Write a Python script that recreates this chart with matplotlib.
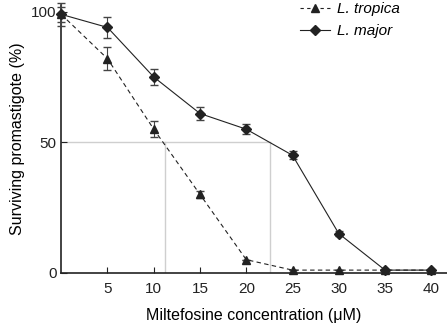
import matplotlib
matplotlib.use('Agg')
import matplotlib.pyplot as plt
from matplotlib.lines import Line2D

plt.rcParams['font.family'] = ['Liberation Sans', 'DejaVu Sans']

# concentrations (uM)
conc = [0, 5, 10, 15, 20, 25, 30, 35, 40]

# surviving promastigote (%)
tropica = [99, 82, 55, 30, 5, 1, 1, 1, 1]
tropica_err = [4.5, 4.5, 3, 1.5, 0, 0, 0, 0, 0]
major = [99, 94, 75, 61, 55, 45, 15, 1, 1]
major_err = [3, 4, 3, 2.5, 2, 1.5, 1, 0, 0]

# IC50 guide lines
ic50 = [11.2, 22.6]

fig = plt.figure(figsize=(4.47, 3.27), dpi=100)
ax = fig.add_axes([0.137, 0.166, 0.863, 0.818])

# guide lines at 50%
ax.plot([0, ic50[1]], [50, 50], color='#cfcfcf', lw=1, zorder=1)
for v in ic50:
    ax.plot([v, v], [0, 50], color='#cfcfcf', lw=1, zorder=1)

ax.errorbar(conc, tropica, yerr=tropica_err, fmt='^--', color='#222222',
            ms=6, lw=0.8, dashes=(4, 3), capsize=3, elinewidth=0.8,
            ecolor='#444444', zorder=3, clip_on=False)
ax.errorbar(conc, major, yerr=major_err, fmt='D-', color='#222222',
            ms=5.5, lw=0.8, capsize=3, elinewidth=0.8,
            ecolor='#444444', zorder=3, clip_on=False)

ax.set_xlim(0, 41.7)
ax.set_ylim(0, 102.5)
ax.set_xticks([5, 10, 15, 20, 25, 30, 35, 40])
ax.set_yticks([0, 50, 100])
ax.tick_params(direction='in', length=4, width=0.8, labelsize=11, colors='#222222')
ax.tick_params(axis='x', pad=7)
ax.spines['top'].set_visible(False)
ax.spines['right'].set_visible(False)
for s in ['left', 'bottom']:
    ax.spines[s].set_linewidth(1.2)
    ax.spines[s].set_color('#222222')

ax.set_xlabel('Miltefosine concentration (\u03bcM)', fontsize=11.5, labelpad=8)
ax.set_ylabel('Surviving promastigote (%)', fontsize=11.5, labelpad=4)

handles = [
    Line2D([], [], marker='^', ls='--', dashes=(3, 3), color='#222222', ms=6, lw=0.8),
    Line2D([], [], marker='D', ls='-', color='#222222', ms=5.5, lw=0.8),
]
fig.legend(handles, ['L. tropica', 'L. major'], loc='upper left',
           bbox_to_anchor=(0.671, 0.993), frameon=False, borderpad=0,
           borderaxespad=0, handlelength=2.0, handletextpad=0.45,
           labelspacing=0.5, prop={'style': 'italic', 'size': 11})

fig.savefig('out.png', dpi=100)
